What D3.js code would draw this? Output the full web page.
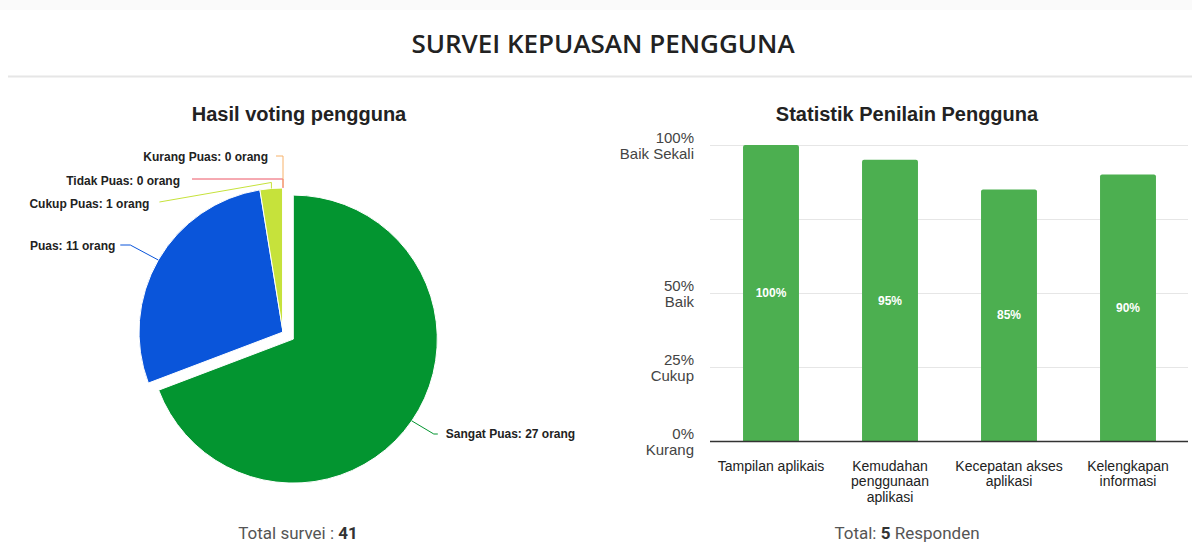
<!DOCTYPE html>
<html>
<head>
<meta charset="utf-8">
<script src="https://cdn.jsdelivr.net/npm/d3@7"></script>
<style>
  body { margin: 0; background: #fff; }
  svg { display: block; }
</style>
</head>
<body>
<svg id="chart" width="1192" height="551"></svg>
<script>
// pie data
var pieLabels = ["Sangat Puas", "Puas", "Cukup Puas", "Tidak Puas", "Kurang Puas"];
var pieValues = [27, 11, 1, 0, 0];
var pieColors = ["#039530", "#0a55da", "#c6e23b", "#ec5565", "#f7b26a"];
var totalSurvei = 41;

// bar data
var barCategories = [["Tampilan aplikais"], ["Kemudahan", "penggunaan", "aplikasi"], ["Kecepatan akses", "aplikasi"], ["Kelengkapan", "informasi"]];
var barValues = [100, 95, 85, 90];
var yTicks = [0, 25, 50, 75, 100];
var yTickNames = { 0: "Kurang", 25: "Cukup", 50: "Baik", 100: "Baik Sekali" };
var totalResponden = 5;

var svg = d3.select("#chart");

// header
svg.append("rect").attr("x", 0).attr("y", 0).attr("width", 1192).attr("height", 10).attr("fill", "#fafafa");
svg.append("text")
  .attr("x", 603).attr("y", 53)
  .attr("text-anchor", "middle")
  .style("font-family", "'Open Sans', sans-serif")
  .style("font-weight", 600)
  .style("font-size", "26px")
  .style("fill", "#222")
  .text("SURVEI KEPUASAN PENGGUNA");
svg.append("line").attr("x1", 8).attr("x2", 1192).attr("y1", 76.5).attr("y2", 76.5)
  .attr("stroke", "#e6e6e6").attr("stroke-width", 2);

// ---------- pie ----------
var cx = 283, cy = 332, radius = 144;

svg.append("text")
  .attr("x", 299).attr("y", 121)
  .attr("text-anchor", "middle")
  .style("font-family", "Arial, 'Liberation Sans', sans-serif")
  .style("font-weight", "bold").style("font-size", "20px").style("fill", "#222")
  .text("Hasil voting pengguna");

var pie = d3.pie().sort(null).value(function (d) { return d; });
var arcs = pie(pieValues);
var arc = d3.arc().innerRadius(0).outerRadius(radius);

function offsetOf(d, i) {
  var r = i === 0 ? 12.5 : 0;
  var a = (d.startAngle + d.endAngle) / 2;
  return [r * Math.sin(a), -r * Math.cos(a)];
}

var pg = svg.append("g").attr("transform", "translate(" + cx + "," + cy + ")");
pg.selectAll("path.slice")
  .data(arcs)
  .enter().append("path")
  .attr("class", "slice")
  .attr("d", arc)
  .attr("transform", function (d, i) { var o = offsetOf(d, i); return "translate(" + o[0] + "," + o[1] + ")"; })
  .attr("fill", function (d, i) { return pieColors[i]; })
  .attr("stroke", "#fff")
  .attr("stroke-width", 1);

// labels with leader lines
var labelY = [434, 246, 204, 181, 157];
function anchor(d, i) {
  var a = (d.startAngle + d.endAngle) / 2, o = offsetOf(d, i);
  return [o[0] + radius * Math.sin(a), o[1] + radius * Math.cos(a) * -1];
}

arcs.forEach(function (d, i) {
  var p = anchor(d, i);
  var ly = labelY[i] - cy;
  var pts, tx, anchorSide;
  if (i === 0) {
    tx = p[0] + 34;
    pts = [p, [tx - 12, ly], [tx - 8, ly]];
    anchorSide = "start";
  } else if (i === 1) {
    tx = p[0] - 43;
    pts = [p, [tx + 15, ly - 1], [tx + 5, ly - 1]];
    anchorSide = "end";
  } else if (i === 2) {
    tx = p[0] - 122;
    pts = [p, [p[0], p[1] - 6], [tx + 10, ly - 2]];
    anchorSide = "end";
  } else if (i === 3) {
    tx = p[0] - 103;
    pts = [p, [p[0], ly - 2], [tx + 12, ly - 2]];
    anchorSide = "end";
  } else {
    tx = p[0] - 15;
    pts = [[p[0], p[1] - 1], [p[0], ly - 1], [tx + 8, ly - 1]];
    anchorSide = "end";
  }
  pg.append("path")
    .attr("d", d3.line()(pts))
    .attr("fill", "none")
    .attr("stroke", pieColors[i])
    .attr("stroke-width", 1);
  pg.append("text")
    .attr("x", tx).attr("y", ly)
    .attr("dy", "0.35em")
    .attr("text-anchor", anchorSide)
    .style("font-family", "Arial, 'Liberation Sans', sans-serif")
    .style("font-weight", "bold").style("font-size", "12px").style("fill", "#222")
    .text(pieLabels[i] + ": " + pieValues[i] + " orang");
});

var t1 = svg.append("text")
  .attr("x", 298).attr("y", 539)
  .attr("text-anchor", "middle")
  .style("font-family", "Roboto, sans-serif")
  .style("font-size", "17px").style("fill", "#555");
t1.append("tspan").text("Total survei : ");
t1.append("tspan").style("font-weight", "bold").style("fill", "#333").text(totalSurvei);

// ---------- bar ----------
svg.append("text")
  .attr("x", 907).attr("y", 121)
  .attr("text-anchor", "middle")
  .style("font-family", "Arial, 'Liberation Sans', sans-serif")
  .style("font-weight", "bold").style("font-size", "20px").style("fill", "#222")
  .text("Statistik Penilain Pengguna");

var x = d3.scaleBand()
  .domain(d3.range(barValues.length))
  .range([711.5, 1187.5])
  .paddingInner(0.53)
  .paddingOuter(0.265);
var y = d3.scaleLinear().domain([0, 100]).range([441, 145]);

var bg = svg.append("g");
bg.selectAll("line.grid")
  .data(yTicks.filter(function (t) { return t > 0; }))
  .enter().append("line")
  .attr("x1", 710).attr("x2", 1188)
  .attr("y1", function (d) { return Math.round(y(d)) + 0.5; })
  .attr("y2", function (d) { return Math.round(y(d)) + 0.5; })
  .attr("stroke", "#e6e6e6");

bg.selectAll("path.bar")
  .data(barValues)
  .enter().append("path")
  .attr("class", "bar")
  .attr("d", function (d, i) {
    var x0 = x(i), w = x.bandwidth(), y0 = y(d), y1 = y(0), r = 2;
    return "M" + x0 + "," + y1 + "V" + (y0 + r) + "Q" + x0 + "," + y0 + " " + (x0 + r) + "," + y0 +
      "H" + (x0 + w - r) + "Q" + (x0 + w) + "," + y0 + " " + (x0 + w) + "," + (y0 + r) + "V" + y1 + "Z";
  })
  .attr("fill", "#4caf50");

bg.selectAll("text.val")
  .data(barValues)
  .enter().append("text")
  .attr("x", function (d, i) { return x(i) + x.bandwidth() / 2; })
  .attr("y", function (d) { return (y(d) + y(0)) / 2; })
  .attr("dy", "0.35em")
  .attr("text-anchor", "middle")
  .style("font-family", "Arial, 'Liberation Sans', sans-serif")
  .style("font-weight", "bold").style("font-size", "12px").style("fill", "#fff")
  .text(function (d) { return d + "%"; });

bg.append("line")
  .attr("x1", 710).attr("x2", 1188)
  .attr("y1", y(0) + 0.5).attr("y2", y(0) + 0.5)
  .attr("stroke", "#333").attr("stroke-width", 1.5);

// y labels
yTicks.filter(function (t) { return yTickNames[t]; }).forEach(function (t) {
  var tt = bg.append("text")
    .attr("x", 694).attr("y", y(t))
    .attr("text-anchor", "end")
    .style("font-family", "Arial, 'Liberation Sans', sans-serif")
    .style("font-size", "15px").style("fill", "#444");
  tt.append("tspan").attr("x", 694).attr("dy", "-0.15em").text(t + "%");
  tt.append("tspan").attr("x", 694).attr("dy", "1.05em").text(yTickNames[t]);
});

// x labels
barCategories.forEach(function (lines, i) {
  var tt = bg.append("text")
    .attr("x", x(i) + x.bandwidth() / 2).attr("y", 471)
    .attr("text-anchor", "middle")
    .style("font-family", "Arial, 'Liberation Sans', sans-serif")
    .style("font-size", "14px").style("fill", "#222");
  lines.forEach(function (l, j) {
    tt.append("tspan").attr("x", x(i) + x.bandwidth() / 2).attr("dy", j === 0 ? 0 : "1.1em").text(l);
  });
});

var t2 = svg.append("text")
  .attr("x", 907).attr("y", 539)
  .attr("text-anchor", "middle")
  .style("font-family", "Roboto, sans-serif")
  .style("font-size", "17px").style("fill", "#555");
t2.append("tspan").text("Total: ");
t2.append("tspan").style("font-weight", "bold").style("fill", "#333").text(totalResponden);
t2.append("tspan").text(" Responden");
</script>
</body>
</html>
